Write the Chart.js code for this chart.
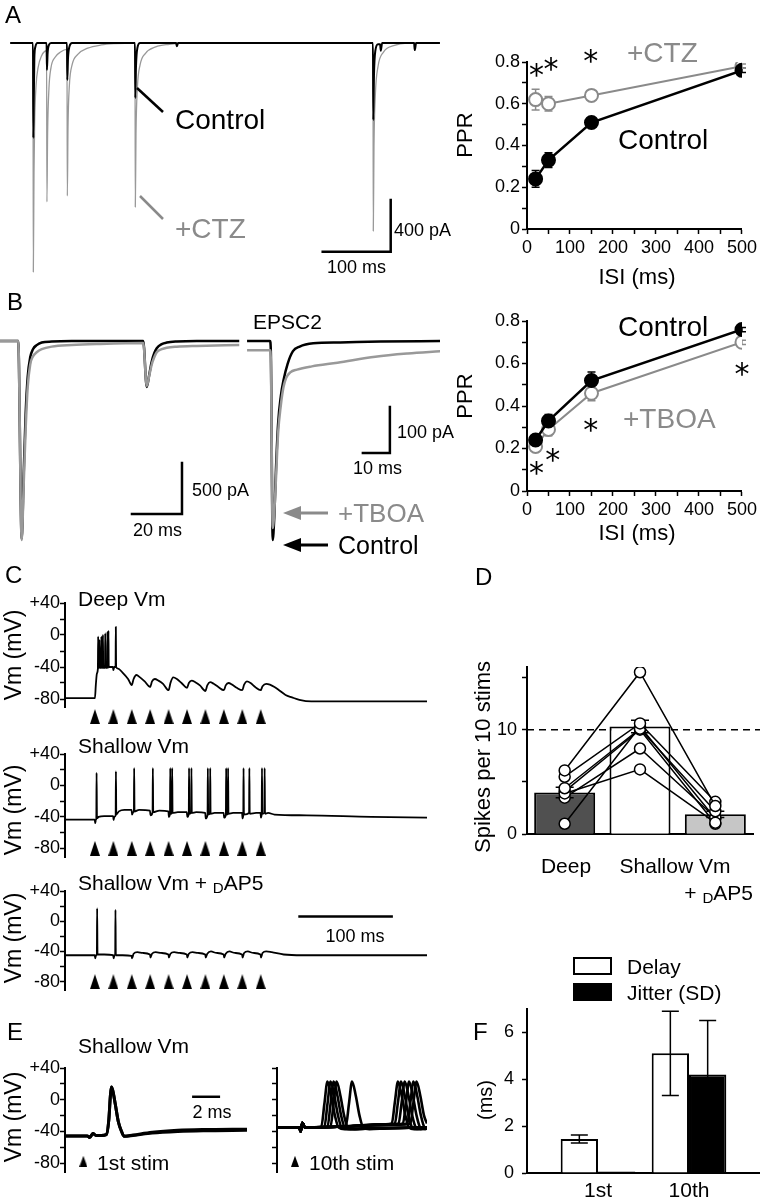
<!DOCTYPE html>
<html>
<head>
<meta charset="utf-8">
<title>Paired-pulse ratio and spike timing</title>
<script src="https://cdn.jsdelivr.net/npm/chart.js@4.4.1/dist/chart.umd.min.js"></script>
<style>
  body { margin: 0; background: #fff; }
  #fig { position: relative; width: 760px; height: 1200px; overflow: hidden; background: #fff;
         font-family: "Liberation Sans", Arial, Helvetica, sans-serif; color: #000; }
  #fig canvas { position: absolute; }
  .t { position: absolute; white-space: nowrap; line-height: 1; }
  .sc { font-size: 0.72em; position: relative; top: 0.22em; }
  .box { position: absolute; box-sizing: border-box; border: 2px solid #000; }
</style>
</head>
<body>
<div id="fig"></div>
<script>
// ---------- A : EPSC traces (ms, pA) and PPR ----------
const ctlTraceA = [[-34,0],[-0.5,0],[0,-735],[0.8,-400],[1.5,-120],[3,-30],[6,0],[19.5,0],[20,-209],[21,-80],[23,-15],[26,0],
  [49.5,0],[50,-286],[51,-120],[53,-30],[57,0],[149.5,0],[150,-426],[151,-180],[153,-40],[157,0],[210,0],[211,-25],[213,0],
  [499.5,0],[500,-596],[501,-250],[503,-60],[507,-10],[510,-10],[511,-60],[513,0],[560,0],[561,-55],[563,0],[598,0]];
const ctzTraceA = [[-34,0],[-0.5,0],[0,-1772],[1,-1000],[2,-600],[4,-330],[7,-190],[12,-100],[19.5,-60],[20,-1230],[21,-700],
  [23,-350],[26,-190],[32,-110],[40,-70],[49.5,-50],[50,-1184],[51,-650],[53,-330],[57,-170],[65,-90],[80,-40],[100,-15],
  [120,-5],[149.5,0],[150,-1270],[151,-700],[153,-350],[157,-170],[165,-80],[180,-30],[200,-10],[220,0],[499.5,0],
  [500,-1455],[501,-800],[503,-400],[507,-180],[515,-70],[530,-20],[550,0],[598,0]];
const isiMs = [20, 50, 150, 500];
const pprCtlA = [0.24, 0.33, 0.51, 0.76];
const pprCtlAErr = [0.04, 0.035, 0.02, 0.01];
const pprCtzA = [0.62, 0.60, 0.64, 0.78];
const pprCtzAErr = [0.05, 0.035, 0.02, 0.01];
const starsA = [[22, 0.76], [56, 0.79], [148, 0.83]];

// ---------- B : EPSC traces and PPR with TBOA ----------
const ctlTraceB1 = [[-8.7,0],[-1.4,0],[0,-1940],[0.8,-1300],[1.6,-700],[2.4,-350],[3.4,-160],[4.5,-80],[6,-40],[8,-15],[12,-5],
  [20,0],[48.6,0],[50,-450],[51,-330],[52,-200],[53,-120],[54,-70],[56,-30],[58,-15],[62,-5],[70,0],[87,0]];
const tboaTraceB1 = [[-8.7,0],[-1.4,0],[0,-1950],[0.8,-1400],[1.6,-850],[2.4,-450],[3.4,-230],[4.5,-150],[6,-110],[8,-80],
  [12,-55],[20,-40],[30,-30],[48.6,-20],[50,-440],[51,-340],[52,-230],[53,-160],[54,-110],[56,-80],[58,-65],[62,-55],[70,-48],[87,-40]];
const ctlTraceB2 = [[-9.5,0],[-1,0],[-0.7,-20],[0,-432],[0.6,-380],[1.2,-280],[2,-180],[3,-120],[4,-85],[5.5,-50],[7.5,-22],
  [10,-12],[15,-5],[25,-3],[40,-1],[62,0]];
const tboaTraceB2 = [[-9.5,-20],[-1,-20],[-0.7,-40],[0,-406],[0.6,-370],[1.2,-300],[2,-200],[3,-140],[4,-100],[5,-80],
  [6.5,-68],[9,-62],[14.5,-55],[24,-47],[38,-34],[50,-27],[62,-22]];
const pprCtlB = [0.24, 0.33, 0.52, 0.76];
const pprCtlBErr = [0.02, 0.03, 0.04, 0.01];
const pprTboaB = [0.21, 0.29, 0.46, 0.70];
const pprTboaBErr = [0.02, 0.03, 0.035, 0.01];
const starsB = [[22, 0.107], [60, 0.169], [148, 0.31], [500, 0.573]];

// ---------- C : membrane potential during 50 Hz trains (ms, mV) ----------
const stimTimes = [0, 20, 40, 60, 80, 100, 120, 140, 160, 180];
const vmTicks = [40, 20, 0, -20, -40, -60, -80];
const deepTrace = [[-32.5,-79],[0,-79],[1,-62],[2.2,-48],[3.2,-42],[3.5,-2],[3.8,-41],[4.6,-41],[4.9,-6],[5.2,-41],
  [6.7,-41],[7.0,-2],[7.3,-41],[8.4,-41],[8.7,0],[9.0,-41],[10.9,-41],[11.2,2],[11.5,-41],[13.3,-41],[13.6,4],[13.9,-41],
  [14.4,-41],[14.7,5],[15.0,-40],[19.5,-40],[20,-44],[21,-40],[22.4,-40],[22.7,10],[23.0,-40],[25,-42],[30,-47],[36,-55],
  [40,-62.5],[42,-55],[45,-50],[49,-53],[54,-58],[60,-65],[62,-58],[65,-55],[69,-57],[74,-61],[80,-69],[82,-60],[85,-53],
  [89,-55],[94,-60],[100,-66],[102,-60],[105,-57],[109,-59],[114,-63],[120,-70],[122,-63],[125,-59],[129,-61],[134,-65],
  [140,-69],[142,-63],[145,-60],[149,-62],[154,-66],[160,-69],[162,-62],[165,-58],[169,-60],[174,-65],[180,-69],[182,-64],
  [186,-61],[190,-62],[195,-65],[200,-69],[207,-75],[214,-78],[222,-81],[235,-83],[361,-83]];
const shallowTrace = [[-32.5,-43.5],[-0.2,-43.5],[0.3,-48],[1.0,-44],[1.5,-42],[1.8,16],[2.2,-42],[4,-40],[10,-39],[19.8,-39],
  [20.3,-44],[21,-40],[22.5,-38],[22.8,18],[23.2,-37],[26,-33],[32,-31],[39.8,-31],
  [40.3,-37],[41.5,-34],[42.3,-33],[42.6,22],[43,-33],[48,-31],[59.8,-32],
  [60.3,-38],[62.6,-34],[62.9,22],[63.3,-34],[70,-32],[79.8,-33],
  [80.3,-40],[81.5,-36],[81.8,22],[82.2,-36],[83.6,-35],[83.9,22],[84.3,-35],[90,-34],[99.8,-34],
  [100.3,-40],[101.9,-36],[102.2,22],[102.6,-36],[104.5,-35],[104.8,22],[105.2,-35],[110,-34],[119.8,-35],
  [120.3,-42],[122.3,-37],[122.6,22],[123,-37],[124.9,-36],[125.2,22],[125.6,-36],[130,-35],[139.8,-35],
  [140.3,-41],[142.2,-37],[142.5,22],[142.9,-37],[144.3,-36],[144.6,22],[145,-36],[150,-35],[159.8,-35],
  [160.3,-42],[161.1,-37],[161.4,22],[161.8,-37],[167.4,-35],[167.7,22],[168.1,-36],[175,-35],[179.8,-35],
  [180.3,-41],[181.1,-36],[181.4,22],[181.8,-36],[184,-35],[184.3,22],[184.7,-36],[188,-35],[195,-37],[230,-38],[300,-40],[361,-41]];
const dap5Trace = [[-32.5,-45],[-0.2,-45],[0.3,-49],[1.2,-45],[2.1,-44],[2.4,17],[2.8,-44],[10,-44],[19.8,-45],[20.3,-49],
  [21.2,-45],[22,-45],[22.3,15],[22.7,-45],[30,-45],[39.8,-46],[40.3,-49],[42,-43],[46,-41],[52,-42],[59.8,-44],[60.3,-48],
  [62,-43],[66,-41],[72,-42],[79.8,-44],[80.3,-48],[82,-43],[86,-41],[92,-42],[99.8,-44],[100.3,-48],[102,-43],[106,-41],
  [112,-42],[119.8,-44],[120.3,-48],[122,-43],[126,-40],[132,-42],[139.8,-44],[140.3,-48],[142,-43],[146,-40],[152,-42],
  [159.8,-44],[160.3,-48],[162,-42],[166,-40],[172,-42],[179.8,-44],[180.3,-48],[182,-42],[186,-40],[192,-41],[205,-44],
  [225,-45],[361,-45]];

// ---------- D : spikes per 10 stimuli ----------
const dCats = ['Deep', 'Shallow Vm', '+ DAP5'];
const dMeans = [4.0, 10.3, 1.9];
const dErr = [0.5, 0.6, 0.3];
const dCells = [[6.1, 15.5, 2.7], [5.5, 10.6, 3.1], [4.4, 10.1, 2.2], [3.9, 6.2, 1.1],
                 [3.5, 8.2, 1.6], [1.0, 10.3, 1.5], [4.1, 10.0, 1.0]];
const dThreshold = 10;

// ---------- E : spikes after 1st and 10th stimulus (ms, mV) ----------
const e1stA = [[-1.84,-45.5],[-0.1,-45.5],[0.1,-47.5],[0.35,-42.5],[0.6,-45],[1.0,-45],[1.4,-44],[1.6,-25],[1.72,5],[1.8,16],
  [1.9,12],[2.1,-5],[2.35,-28],[2.6,-40],[2.8,-46],[3.5,-45],[5,-42],[7,-40],[9,-39],[12.44,-38.5]];
const e1stB = [[-1.84,-45.5],[-0.1,-45.5],[0.1,-47.5],[0.35,-42.5],[0.6,-45],[1.0,-45],[1.4,-44],[1.6,-25],[1.72,5],[1.8,16],
  [1.9,12],[2.1,-5],[2.35,-28],[2.6,-40],[2.8,-46],[3.5,-44.5],[5,-41],[7,-38.5],[9,-37.5],[12.44,-37]];
const e10th = [
  [[-1.85,-35],[-0.05,-35],[0.05,-40],[0.2,-29],[0.4,-35],[1.72,-34],[1.97,-5],[2.22,23],[2.52,5],[2.82,-20],[3.12,-35],[3.6,-37],[5,-36],[10.24,-35]],
  [[-1.85,-35],[-0.05,-35],[0.05,-40],[0.2,-29],[0.4,-35],[1.97,-34],[2.22,-5],[2.47,23],[2.77,5],[3.07,-20],[3.37,-35],[3.9,-37],[5.5,-36],[10.24,-35]],
  [[-1.85,-35],[-0.05,-35],[0.05,-40],[0.2,-29],[0.4,-35],[2.22,-34],[2.47,-5],[2.72,23],[3.02,5],[3.32,-20],[3.62,-35],[4.1,-37],[6,-36],[10.24,-35]],
  [[-1.85,-35],[-0.05,-35],[0.05,-40],[0.2,-29],[0.4,-35],[2.46,-34],[2.71,-5],[2.96,23],[3.26,5],[3.56,-20],[3.86,-35],[4.4,-37],[6,-36],[10.24,-35]],
  [[-1.85,-35],[-0.05,-35],[0.05,-40],[0.2,-29],[0.4,-35],[3.7,-33],[3.95,-5],[4.2,23],[4.5,5],[4.8,-20],[5.1,-35],[5.6,-37],[7,-36],[10.24,-35]],
  [[-1.85,-35],[-0.05,-35],[0.05,-40],[0.2,-29],[0.4,-35],[3,-34],[6.9,-31],[7.4,-30],[7.65,-3],[7.9,23],[8.2,5],[8.5,-20],[8.8,-35],[9.2,-37],[10.24,-36]],
  [[-1.85,-35],[-0.05,-35],[0.05,-40],[0.2,-29],[0.4,-35],[3,-34],[7.15,-31],[7.65,-30],[7.9,-3],[8.15,23],[8.45,5],[8.75,-20],[9.05,-35],[9.45,-37],[10.24,-36]],
  [[-1.85,-35],[-0.05,-35],[0.05,-40],[0.2,-29],[0.4,-35],[3,-34],[7.45,-31],[7.95,-30],[8.2,-3],[8.45,23],[8.75,5],[9.05,-20],[9.35,-35],[9.75,-37],[10.24,-36]],
  [[-1.85,-35],[-0.05,-35],[0.05,-40],[0.2,-29],[0.4,-35],[3,-34],[7.8,-31],[8.3,-30],[8.55,-3],[8.8,23],[9.1,5],[9.4,-20],[9.7,-35],[10.1,-37],[10.24,-36]],
  [[-1.85,-35],[-0.05,-35],[0.05,-40],[0.2,-29],[0.4,-35],[3,-34],[8.15,-31],[8.65,-30],[8.9,-3],[9.15,23],[9.45,5],[9.75,-20],[10.05,-35],[10.24,-36]],
  [[-1.85,-35],[-0.05,-35],[0.05,-40],[0.2,-29],[0.4,-35],[3,-34],[8.4,-31],[8.9,-30],[9.15,-3],[9.4,23],[9.7,5],[10,-20],[10.24,-30]]
];

// ---------- F : delay and jitter ----------
const fCats = ['1st', '10th'];
const fX = [1, 2];
const fDelay = [1.45, 5.1];
const fDelayErr = [0.17, 1.8];
const fJitter = [0.06, 4.2];
const fJitterErr = [0, 2.3];

// ================= drawing =================
const GRAY = '#8a8a8a';
Chart.defaults.font.family = '"Liberation Sans", Arial, Helvetica, sans-serif';
Chart.defaults.color = '#000';
Chart.defaults.animation = false;
Chart.defaults.events = [];
Chart.defaults.plugins.legend.display = false;
Chart.defaults.plugins.tooltip.enabled = false;

const fig = document.getElementById('fig');
const axisGrid = { drawOnChartArea: false, drawTicks: true, tickLength: 5, tickColor: '#000', tickWidth: 1.5 };
const axisBorder = { display: true, color: '#000', width: 2 };

function makeCanvas(left, top, w, h) {
  const c = document.createElement('canvas');
  c.width = w; c.height = h;
  c.style.left = left + 'px'; c.style.top = top + 'px';
  c.style.width = w + 'px'; c.style.height = h + 'px';
  fig.appendChild(c);
  return c;
}

function traceSet(pts, color, lw) {
  return { data: pts.map(p => ({ x: p[0], y: p[1] })), showLine: true, borderColor: color, borderWidth: lw,
           pointRadius: 0, cubicInterpolationMode: 'monotone', borderJoinStyle: 'round' };
}

// scale bar given in data units: corner (x, y), horizontal length dx, vertical length dy
function scaleBar(b) {
  return { id: 'scaleBar', afterDatasetsDraw(chart) {
    const ctx = chart.ctx, xs = chart.scales.x, ys = chart.scales.y;
    const x0 = xs.getPixelForValue(b.x), x1 = xs.getPixelForValue(b.x + b.dx);
    const y0 = ys.getPixelForValue(b.y), y1 = ys.getPixelForValue(b.y + b.dy);
    ctx.save();
    ctx.strokeStyle = '#000'; ctx.lineWidth = 2.5; ctx.lineCap = 'square';
    ctx.beginPath(); ctx.moveTo(x1, y0); ctx.lineTo(x0, y0);
    if (b.dy) ctx.lineTo(x0, y1);
    ctx.stroke(); ctx.restore();
  } };
}

function errorBars(mode, cap) {
  const drawSet = (chart, i) => {
    const ds = chart.data.datasets[i];
    if (!ds.errors) return;
    const ctx = chart.ctx, ys = chart.scales.y;
    chart.getDatasetMeta(i).data.forEach((el, j) => {
      const e = ds.errors[j];
      if (!e) return;
      const raw = ds.data[j], v = typeof raw === 'object' ? raw.y : raw;
      const y1 = ys.getPixelForValue(v + e), y2 = ys.getPixelForValue(v - e);
      ctx.save();
      ctx.strokeStyle = ds.errColor || '#000'; ctx.lineWidth = 1.5;
      ctx.beginPath();
      ctx.moveTo(el.x, y1); ctx.lineTo(el.x, y2);
      ctx.moveTo(el.x - cap, y1); ctx.lineTo(el.x + cap, y1);
      ctx.moveTo(el.x - cap, y2); ctx.lineTo(el.x + cap, y2);
      ctx.stroke(); ctx.restore();
    });
  };
  const all = chart => chart.data.datasets.forEach((ds, i) => drawSet(chart, i));
  if (mode === 'under') return { id: 'errorBars', beforeDatasetsDraw: all };
  if (mode === 'each') return { id: 'errorBars', afterDatasetDraw: (chart, args) => drawSet(chart, args.index) };
  return { id: 'errorBars', afterDatasetsDraw: all };
}

function starMarks(items, size) {
  return { id: 'stars', afterDatasetsDraw(chart) {
    const ctx = chart.ctx, xs = chart.scales.x, ys = chart.scales.y;
    ctx.save();
    ctx.font = size + 'px "DejaVu Sans", sans-serif';
    ctx.fillStyle = '#000'; ctx.textAlign = 'center'; ctx.textBaseline = 'alphabetic';
    const m = ctx.measureText('*');
    const off = (m.actualBoundingBoxAscent - m.actualBoundingBoxDescent) / 2;
    items.forEach(p => ctx.fillText('*', xs.getPixelForValue(p[0]), ys.getPixelForValue(p[1]) + off));
    ctx.restore();
  } };
}

function refLine(v) {
  return { id: 'refLine', beforeDatasetsDraw(chart) {
    const ctx = chart.ctx, y = chart.scales.y.getPixelForValue(v);
    ctx.save();
    ctx.setLineDash([7, 5]); ctx.strokeStyle = '#000'; ctx.lineWidth = 1.5;
    ctx.beginPath(); ctx.moveTo(chart.chartArea.left, y); ctx.lineTo(chart.width, y); ctx.stroke();
    ctx.restore();
  } };
}

function triMark(w, h) {
  const c = document.createElement('canvas');
  c.width = w; c.height = h;
  const g = c.getContext('2d');
  g.fillStyle = '#000';
  g.beginPath(); g.moveTo(w / 2, 0); g.lineTo(w, h); g.lineTo(0, h); g.closePath(); g.fill();
  return c;
}

// trace panels with no axes
function rawTraceChart(box, xr, yr, sets, bar) {
  const c = makeCanvas(box[0], box[1], box[2], box[3]);
  return new Chart(c, {
    type: 'scatter',
    data: { datasets: sets.map(s => traceSet(s.pts, s.color, s.lw)) },
    options: {
      responsive: false, devicePixelRatio: 1, layout: { padding: 0 },
      scales: { x: { type: 'linear', display: false, min: xr[0], max: xr[1] },
                y: { display: false, min: yr[0], max: yr[1] } }
    },
    plugins: [scaleBar(bar)]
  });
}

function vmLabel(v) {
  if (v === 40) return '+40';
  return v % 40 === 0 ? String(v) : '';
}

// membrane potential panels with a Vm axis
function vmChart(box, padTop, yW, padR, xr, sets, marks, bar, labels) {
  const [l, t, w, h] = box;
  const c = makeCanvas(l, t, w, h);
  const ds = sets.map(s => traceSet(s.pts, s.color, s.lw));
  if (marks) ds.push({ data: marks.t.map(x => ({ x, y: marks.y })), showLine: false,
                       pointStyle: marks.img, pointRadius: 12, clip: false });
  return new Chart(c, {
    type: 'scatter',
    data: { datasets: ds },
    options: {
      responsive: false, devicePixelRatio: 1,
      layout: { padding: { top: padTop, right: padR, left: 0, bottom: h - padTop - 104.8 } },
      scales: {
        x: { type: 'linear', display: false, min: xr[0], max: xr[1] },
        y: { min: -91, max: 40,
             afterFit: s => { s.width = yW; },
             afterBuildTicks: s => { s.ticks = vmTicks.map(v => ({ value: v })); },
             ticks: { font: { size: 18 }, padding: 0, autoSkip: false, callback: v => labels ? vmLabel(v) : '' },
             grid: axisGrid, border: axisBorder }
      }
    },
    plugins: bar ? [scaleBar(bar)] : []
  });
}

function pprChart(top, padTop, areaH, sets, stars) {
  const c = makeCanvas(440, top, 320, 250);
  return new Chart(c, {
    type: 'scatter',
    data: { datasets: sets.map(s => ({
      data: isiMs.map((x, i) => ({ x, y: s.y[i] })), errors: s.err, errColor: s.color,
      showLine: true, borderColor: s.color, borderWidth: s.lw,
      pointRadius: 6.5, pointBackgroundColor: s.fill, pointBorderColor: s.color, pointBorderWidth: 2
    })) },
    options: {
      responsive: false, devicePixelRatio: 1,
      layout: { padding: { top: padTop, right: 15, left: 0, bottom: 0 } },
      scales: {
        x: { type: 'linear', min: 0, max: 500,
             afterFit: s => { s.height = 250 - padTop - areaH; },
             ticks: { stepSize: 50, autoSkip: false, maxRotation: 0, font: { size: 18 }, padding: 3,
                      callback: v => v % 100 === 0 ? String(v) : '' },
             grid: axisGrid, border: axisBorder },
        y: { min: 0, max: 0.8,
             afterFit: s => { s.width = 87; },
             ticks: { stepSize: 0.1, autoSkip: false, font: { size: 18 }, padding: 2,
                      callback: v => { const k = Math.round(v * 10); return k % 2 ? '' : (k === 0 ? '0' : (k / 10).toFixed(1)); } },
             grid: axisGrid, border: axisBorder }
      }
    },
    plugins: [errorBars('under', 4), starMarks(stars, 30)]
  });
}

// ---- A ----
rawTraceChart([10, 35, 430, 250], [-34.3, 598.1], [-1873, 62],
  [{ pts: ctlTraceA, color: '#000', lw: 2 }, { pts: ctzTraceA, color: '#999', lw: 1.3 }],
  { x: 525.6, y: -1615, dx: -100, dy: 400 });
pprChart(40, 22, 167, [
  { y: pprCtlA, err: pprCtlAErr, color: '#000', fill: '#000', lw: 2.5 },
  { y: pprCtzA, err: pprCtzAErr, color: GRAY, fill: '#fff', lw: 2 }
], starsA);

// ---- B ----
rawTraceChart([0, 330, 240, 215], [-8.68, 87.3], [-1999, 108],
  [{ pts: tboaTraceB1, color: '#999', lw: 2.5 }, { pts: ctlTraceB1, color: '#000', lw: 2.5 }],
  { x: 64.1, y: -1695, dx: -20, dy: 500 });
rawTraceChart([245, 330, 195, 215], [-10.26, 61.96], [-442.7, 23.9],
  [{ pts: tboaTraceB2, color: '#999', lw: 2.5 }, { pts: ctlTraceB2, color: '#000', lw: 2.5 }],
  { x: 43.4, y: -243, dx: -10, dy: 100 });
pprChart(300, 21, 170, [
  { y: pprCtlB, err: pprCtlBErr, color: '#000', fill: '#000', lw: 2.5 },
  { y: pprTboaB, err: pprTboaBErr, color: GRAY, fill: '#fff', lw: 2 }
], starsB);

// ---- C ----
const bigTri = triMark(10, 15);
const smallTri = triMark(8, 11);
vmChart([0, 590, 440, 140], 13, 65, 0, [-32.5, 360.6], [{ pts: deepTrace, color: '#000', lw: 1.8 }],
  { t: stimTimes, y: -102, img: bigTri }, null, true);
vmChart([0, 740, 440, 130], 14, 65, 0, [-32.5, 360.6], [{ pts: shallowTrace, color: '#000', lw: 1.8 }],
  { t: stimTimes, y: -80, img: bigTri }, null, true);
vmChart([0, 878, 440, 125], 13, 65, 0, [-32.5, 360.6], [{ pts: dap5Trace, color: '#000', lw: 1.8 }],
  { t: stimTimes, y: -80, img: bigTri }, { x: 222.2, y: 6.25, dx: 100, dy: 0 }, true);

// ---- D ----
new Chart(makeCanvas(440, 650, 320, 200), {
  type: 'bar',
  data: { labels: dCats, datasets: [
    ...dCells.map(cell => ({ type: 'line', data: cell, borderColor: '#000', borderWidth: 1.5, pointRadius: 5.5,
      pointBackgroundColor: '#fff', pointBorderColor: '#000', pointBorderWidth: 1.5, order: 0 })),
    { type: 'bar', data: dMeans, errors: dErr, backgroundColor: ['#505050', '#ffffff', '#c6c6c6'],
      borderColor: '#000', borderWidth: 2, barPercentage: 0.81, categoryPercentage: 1, order: 1 }
  ] },
  options: {
    responsive: false, devicePixelRatio: 1,
    layout: { padding: { top: 17, right: 2, left: 0, bottom: 0 } },
    scales: {
      x: { grid: { display: false }, ticks: { display: false }, border: axisBorder, afterFit: s => { s.height = 13; } },
      y: { min: 0, max: 16, afterFit: s => { s.width = 87; },
           ticks: { stepSize: 5, includeBounds: false, font: { size: 18 }, padding: 5,
                    callback: v => (v === 0 || v === 10) ? String(v) : '' },
           grid: axisGrid, border: axisBorder }
    }
  },
  plugins: [refLine(dThreshold), errorBars('each', 9)]
});

// ---- E ----
vmChart([0, 1055, 260, 130], 13, 65, 5, [-1.84, 12.44],
  [{ pts: e1stA, color: '#000', lw: 3 }, { pts: e1stB, color: '#000', lw: 3 }],
  { t: [-0.4], y: -77.5, img: smallTri }, { x: 8.23, y: 3.75, dx: 2, dy: 0 }, true);
vmChart([259, 1055, 181, 130], 13, 18, 0, [-1.85, 10.24],
  e10th.map(p => ({ pts: p, color: '#000', lw: 2.6 })),
  { t: [-0.4], y: -77.5, img: smallTri }, null, false);

// ---- F ----
new Chart(makeCanvas(440, 990, 320, 210), {
  type: 'bar',
  data: { datasets: [
    { label: 'Delay', data: fX.map((x, i) => ({ x, y: fDelay[i] })), errors: fDelayErr, backgroundColor: '#fff',
      borderColor: '#000', borderWidth: 2, categoryPercentage: 0.82, barPercentage: 1 },
    { label: 'Jitter (SD)', data: fX.map((x, i) => ({ x, y: fJitter[i] })), errors: fJitterErr, backgroundColor: '#000',
      borderColor: '#000', borderWidth: 2, categoryPercentage: 0.82, barPercentage: 1 }
  ] },
  options: {
    responsive: false, devicePixelRatio: 1,
    layout: { padding: { top: 13, right: 0, left: 0, bottom: 0 } },
    scales: {
      x: { type: 'linear', min: 0.22, max: 2.78, offset: false,
           grid: { display: false, drawTicks: false, tickLength: 0, offset: false }, border: axisBorder,
           afterBuildTicks: s => { s.ticks = fX.map(v => ({ value: v })); },
           ticks: { font: { size: 21 }, padding: 6, autoSkip: false, maxRotation: 0, callback: v => fCats[fX.indexOf(v)] },
           afterFit: s => { s.height = 27; } },
      y: { min: 0, max: 7, afterFit: s => { s.width = 87; },
           ticks: { stepSize: 1, font: { size: 18 }, padding: 8, callback: v => v % 2 === 0 ? String(v) : '' },
           grid: axisGrid, border: axisBorder }
    }
  },
  plugins: [errorBars('front', 8.5)]
});

// ---- leader lines and arrows ----
fig.insertAdjacentHTML('beforeend',
  '<svg width="760" height="1200" style="position:absolute;left:0;top:0" xmlns="http://www.w3.org/2000/svg">' +
  '<line x1="137" y1="88" x2="163" y2="112" stroke="#000" stroke-width="2.5"/>' +
  '<line x1="140" y1="196" x2="163" y2="219" stroke="' + GRAY + '" stroke-width="2.5"/>' +
  '<line x1="298" y1="513" x2="328" y2="513" stroke="' + GRAY + '" stroke-width="3"/>' +
  '<polygon points="283,513 301,506 301,520" fill="' + GRAY + '"/>' +
  '<line x1="298" y1="545" x2="328" y2="545" stroke="#000" stroke-width="3"/>' +
  '<polygon points="283,545 301,538 301,552" fill="#000"/>' +
  '</svg>');

// ---- text ----
function txt(s, x, cy, size, o = {}) {
  const d = document.createElement('div');
  d.className = 't';
  d.innerHTML = s;
  d.style.fontSize = size + 'px';
  d.style.left = x + 'px';
  d.style.top = (cy - size / 2) + 'px';
  if (o.color) d.style.color = o.color;
  let tf = '';
  if (o.align === 'center') tf = 'translateX(-50%)';
  if (o.align === 'right') tf = 'translateX(-100%)';
  if (o.rot) { d.style.top = cy + 'px'; tf = 'translate(-50%,-50%) rotate(-90deg)'; }
  d.style.transform = tf;
  fig.appendChild(d);
}
const C = { align: 'center' }, R = { rot: true }, G = { color: GRAY };

txt('A', 5, 15, 24);
txt('Control', 175, 120, 28);
txt('+CTZ', 175, 229, 28, G);
txt('400 pA', 394, 230, 18);
txt('100 ms', 327, 267, 18);
txt('+CTZ', 627, 53, 28, G);
txt('Control', 618, 140, 28);
txt('PPR', 465, 135, 22, R);
txt('ISI (ms)', 637, 277, 22, C);

txt('B', 7, 302, 24);
txt('EPSC2', 253, 321, 21);
txt('500 pA', 192, 490, 18);
txt('20 ms', 133, 530, 18);
txt('100 pA', 397, 432, 18);
txt('10 ms', 353, 468, 18);
txt('+TBOA', 338, 513, 26, G);
txt('Control', 338, 545, 25);
txt('Control', 618, 327, 28);
txt('+TBOA', 623, 419, 28, G);
txt('PPR', 465, 396, 22, R);
txt('ISI (ms)', 637, 533, 22, C);

txt('C', 5, 575, 24);
txt('Deep Vm', 78, 598, 21);
txt('Shallow Vm', 78, 745, 21);
txt('Shallow Vm + <span class="sc">D</span>AP5', 78, 882, 21);
[655, 810, 938, 1117].forEach(y => txt('Vm (mV)', 13, y, 23, R));
txt('100 ms', 355, 936, 18, C);

txt('D', 475, 577, 24);
txt('Spikes per 10 stims', 483, 757, 22, R);
txt('Deep', 566, 865, 21, C);
txt('Shallow Vm', 675, 865, 21, C);
txt('+ <span class="sc">D</span>AP5', 753, 892, 21, { align: 'right' });

txt('E', 7, 1032, 24);
txt('Shallow Vm', 78, 1045, 21);
txt('2 ms', 212, 1112, 18, C);
txt('1st stim', 97, 1162, 21);
txt('10th stim', 309, 1162, 21);

txt('F', 473, 1032, 24);
fig.insertAdjacentHTML('beforeend',
  '<div class="box" style="left:573px;top:957px;width:39px;height:18px;background:#fff"></div>' +
  '<div class="box" style="left:573px;top:983px;width:39px;height:18px;background:#000"></div>');
txt('Delay', 627, 966, 21);
txt('Jitter (SD)', 627, 992, 21);
txt('(ms)', 485, 1100, 20, R);
</script>
</body>
</html>
